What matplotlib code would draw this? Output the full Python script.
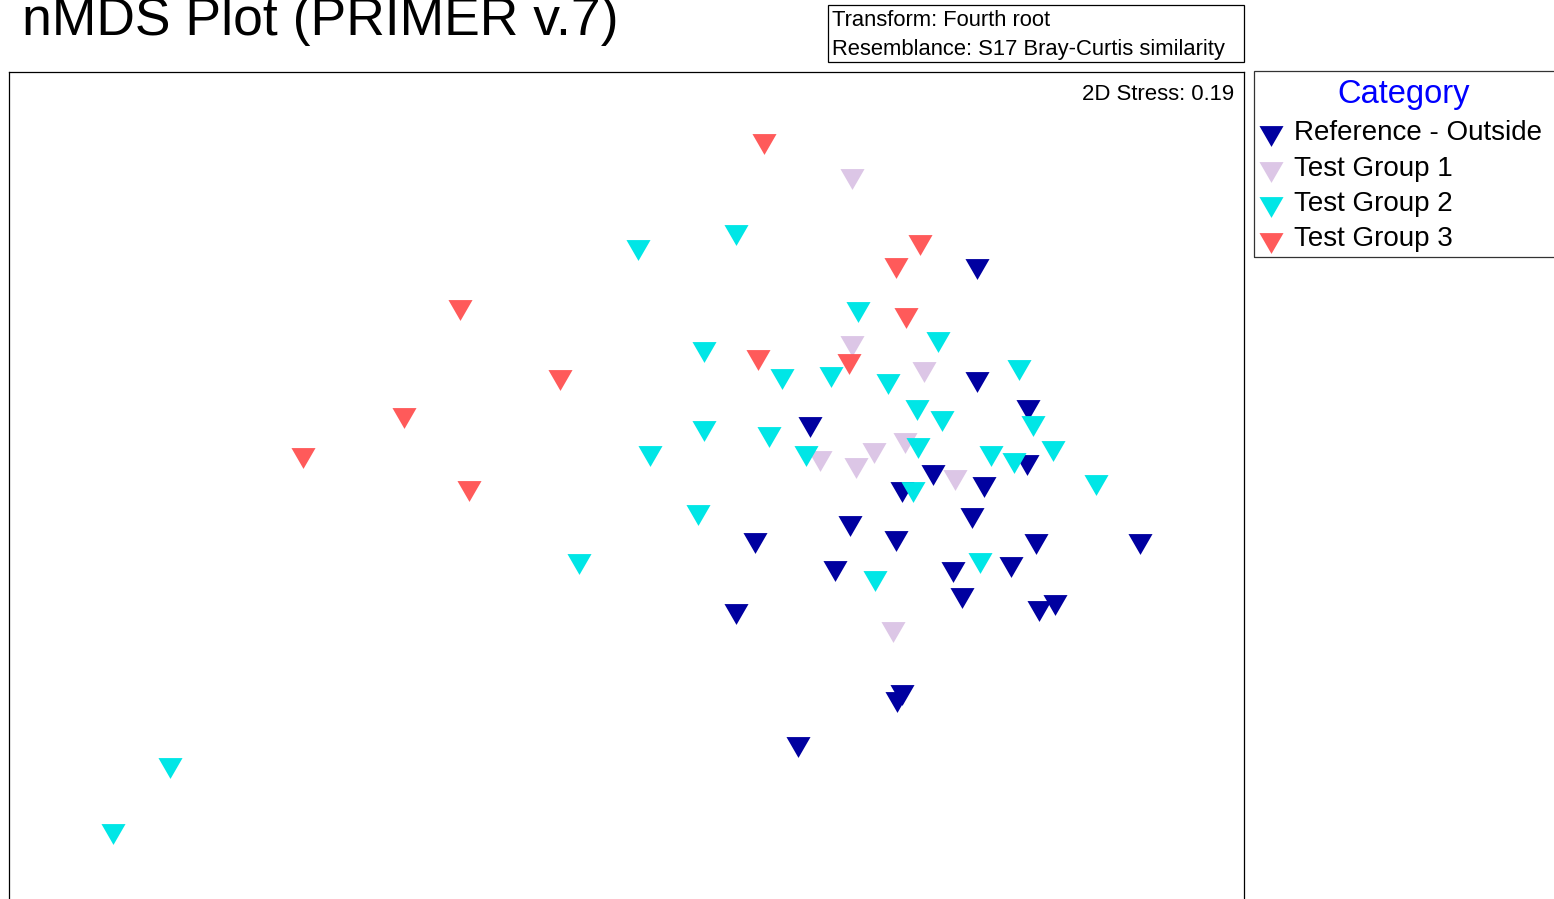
import matplotlib
matplotlib.use('Agg')
import matplotlib.pyplot as plt
from matplotlib.lines import Line2D
from matplotlib.patches import Rectangle
import numpy as np

plt.rcParams['font.family'] = ['Liberation Sans', 'DejaVu Sans']

# nMDS ordination coordinates per group
ref_x = [2.77, 2.77, 3.28, 1.10, 3.27, 2.33, 2.84, 2.02, 2.72, 1.50, 0.55, 1.96,
         3.36, 4.40, 1.35, 2.53, 3.11, 2.62, 0.36, 3.39, 3.55, 1.97, 2.02, 0.98]
ref_y = [2.31, 1.18, 0.90, 0.73, 0.35, 0.25, 0.13, 0.08, -0.18, -0.26, -0.43, -0.41,
         -0.44, -0.44, -0.71, -0.72, -0.67, -0.98, -1.14, -1.11, -1.05, -2.02, -1.95, -2.47]

g1_x = [1.52, 1.52, 2.24, 2.05, 1.74, 1.20, 1.56, 2.55, 1.93]
g1_y = [3.21, 1.54, 1.28, 0.57, 0.47, 0.39, 0.32, 0.20, -1.32]

g2_x = [0.36, -0.62, 1.58, 2.38, 0.04, 0.82, 1.31, 1.88, 3.19, 2.17, 2.42, 3.33, 0.04, 0.69,
        -0.50, 1.06, 2.18, 2.91, 3.14, 3.53, 3.96, 2.13, -0.02, -1.21, 1.75, 2.80, -5.30, -5.87]
g2_y = [2.65, 2.50, 1.88, 1.58, 1.48, 1.21, 1.23, 1.16, 1.30, 0.90, 0.79, 0.74, 0.69, 0.63,
        0.44, 0.44, 0.52, 0.44, 0.37, 0.49, 0.15, 0.08, -0.15, -0.64, -0.81, -0.63, -2.68, -3.34]

g3_x = [0.64, 2.20, 1.96, -2.40, 2.06, 0.58, 1.49, -1.40, -2.96, -3.97, -2.31]
g3_y = [3.56, 2.55, 2.32, 1.90, 1.82, 1.40, 1.36, 1.20, 0.82, 0.42, 0.09]

labels = ['Reference - Outside', 'Test Group 1', 'Test Group 2', 'Test Group 3']
colors = ['#0000a0', '#dcc6e6', '#00e6e6', '#ff5a5a']
stress = 0.19

# equilateral down-pointing triangle, centred on its bounding box
tri = [(-1, 0.866), (1, 0.866), (0, -0.866), (-1, 0.866)]

W, H = 1554, 899
fig = plt.figure(figsize=(W / 100, H / 100), dpi=100)
ax = fig.add_axes([9 / W, 1 - 910 / H, 1235 / W, 838 / H])
ax.set_xlim(-6.91, 5.44)
ax.set_ylim(-4.10, 4.28)
ax.set_xticks([])
ax.set_yticks([])
for s in ax.spines.values():
    s.set_linewidth(0.9)
    s.set_color('black')

groups = [(ref_x, ref_y), (g1_x, g1_y), (g2_x, g2_y), (g3_x, g3_y)]
order = [1, 2, 0, 3]
for i in order:
    gx, gy = groups[i]
    ax.scatter(gx, gy, s=300, marker=tri, color=colors[i], linewidths=0, zorder=2 + i)

ax.text(0.992, 1 - 28 / 838, '2D Stress: %.2f' % stress,
        transform=ax.transAxes, ha='right', va='baseline', fontsize=15.9)

# title
fig.text(22 / W, 1 - 35 / H, 'nMDS Plot (PRIMER v.7)', fontsize=38.5, va='baseline')

# transform / resemblance box
fig.add_artist(Rectangle((828 / W, 1 - 62 / H), 416 / W, 57 / H, transform=fig.transFigure,
                         fill=False, edgecolor='black', linewidth=0.9))
fig.text(832 / W, 1 - 26 / H, 'Transform: Fourth root', fontsize=15.8, va='baseline')
fig.text(832 / W, 1 - 55 / H, 'Resemblance: S17 Bray-Curtis similarity', fontsize=15.8,
         va='baseline')

# legend
fig.add_artist(Rectangle((1254 / W, 1 - 257 / H), 320 / W, 186 / H, transform=fig.transFigure,
                         fill=False, edgecolor='#333333', linewidth=0.9, clip_on=False))
fig.text(1404 / W, 1 - 103 / H, 'Category', fontsize=23.5, color='#0000ff', ha='center',
         va='baseline')
for k, (lab, c) in enumerate(zip(labels, colors)):
    yc = 1 - (136 + 35.5 * k) / H
    fig.add_artist(Line2D([1271 / W], [yc], transform=fig.transFigure, marker=tri,
                          markersize=17.3, color=c, markeredgewidth=0, linestyle='none'))
    fig.text(1294 / W, yc - 4 / H, lab, fontsize=20, va='baseline')

fig.savefig('out.png', dpi=100)
